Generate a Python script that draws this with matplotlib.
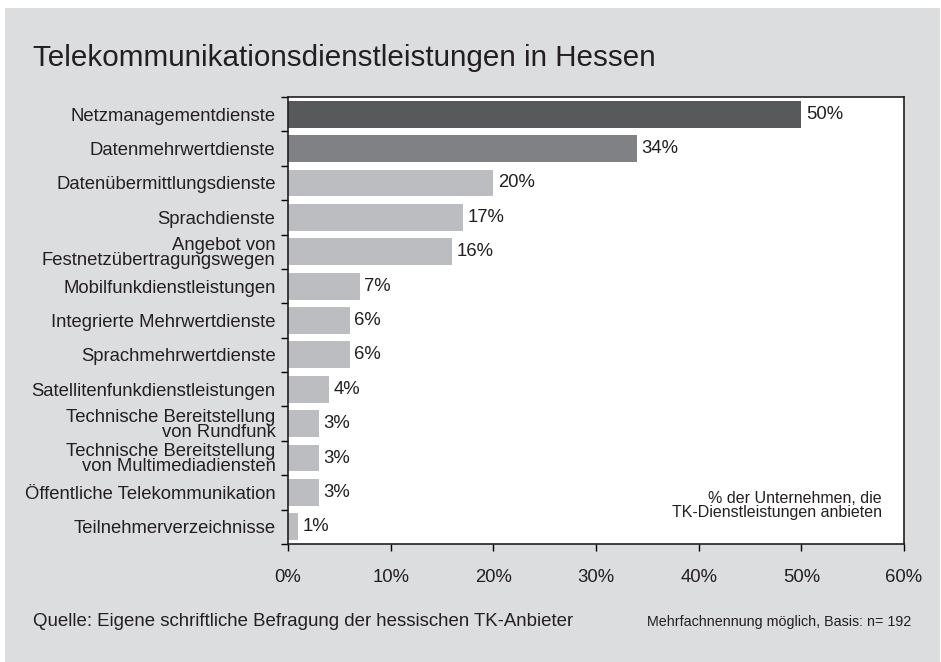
import matplotlib.pyplot as plt
from matplotlib.patches import Rectangle
from matplotlib.ticker import FixedLocator, PercentFormatter

plt.rcParams["font.family"] = ["Liberation Sans", "DejaVu Sans"]

categories = [
    "Netzmanagementdienste",
    "Datenmehrwertdienste",
    "Datenübermittlungsdienste",
    "Sprachdienste",
    "Angebot von\nFestnetzübertragungswegen",
    "Mobilfunkdienstleistungen",
    "Integrierte Mehrwertdienste",
    "Sprachmehrwertdienste",
    "Satellitenfunkdienstleistungen",
    "Technische Bereitstellung\nvon Rundfunk",
    "Technische Bereitstellung\nvon Multimediadiensten",
    "Öffentliche Telekommunikation",
    "Teilnehmerverzeichnisse",
]
values = [50, 34, 20, 17, 16, 7, 6, 6, 4, 3, 3, 3, 1]
bar_colors = ["#58595b", "#808184"] + ["#bcbdc0"] * 11
x_ticks = [0, 10, 20, 30, 40, 50, 60]

TEXT = "#231f20"
BG = "#dcdddf"

fig = plt.figure(figsize=(9.41, 6.62), dpi=100)
fig.patch.set_facecolor("white")
fig.patches.append(Rectangle((5 / 941, 0), 935 / 941, 1 - 8 / 662,
                             transform=fig.transFigure, facecolor=BG,
                             edgecolor="none", zorder=-10))

ax = fig.add_axes([288 / 941, 1 - 544 / 662, 616 / 941, 447 / 662])
ax.set_facecolor("white")

y = list(range(len(categories)))
ax.barh(y, values, height=0.78, color=bar_colors, zorder=2)
for yi, v in zip(y, values):
    ax.text(v + 0.45, yi, f"{v}%", va="center", ha="left", fontsize=13.3, color=TEXT)

ax.set_xlim(0, 60)
ax.set_ylim(len(categories) - 0.5, -0.5)
ax.set_xticks(x_ticks)
ax.xaxis.set_major_formatter(PercentFormatter(decimals=0))
ax.set_yticks(y)
ax.set_yticklabels(categories, fontsize=13.3, color=TEXT, linespacing=0.88)
ax.yaxis.set_minor_locator(FixedLocator([i - 0.5 for i in range(len(categories) + 1)]))
ax.tick_params(axis="y", which="major", length=0, pad=9)
ax.tick_params(axis="y", which="minor", length=5, width=1, direction="out")
ax.tick_params(axis="x", length=5, width=1, direction="out", pad=13,
               labelsize=13.3, labelcolor=TEXT)
for s in ax.spines.values():
    s.set_linewidth(1.2)
    s.set_color("#231f20")

ax.text(0.964, 0.087, "% der Unternehmen, die\nTK-Dienstleistungen anbieten",
        transform=ax.transAxes, ha="right", va="center", fontsize=11.5,
        color=TEXT, linespacing=0.9)

fig.text(33 / 941, 1 - 58 / 662, "Telekommunikationsdienstleistungen in Hessen",
         fontsize=21.3, color=TEXT, va="center", ha="left")
fig.text(33 / 941, 1 - 622 / 662,
         "Quelle: Eigene schriftliche Befragung der hessischen TK-Anbieter",
         fontsize=13.4, color=TEXT, va="center", ha="left")
fig.text(911 / 941, 1 - 622 / 662, "Mehrfachnennung möglich, Basis: n= 192",
         fontsize=10.3, color=TEXT, va="center", ha="right")

fig.savefig("out.png", dpi=100, facecolor=fig.get_facecolor())
